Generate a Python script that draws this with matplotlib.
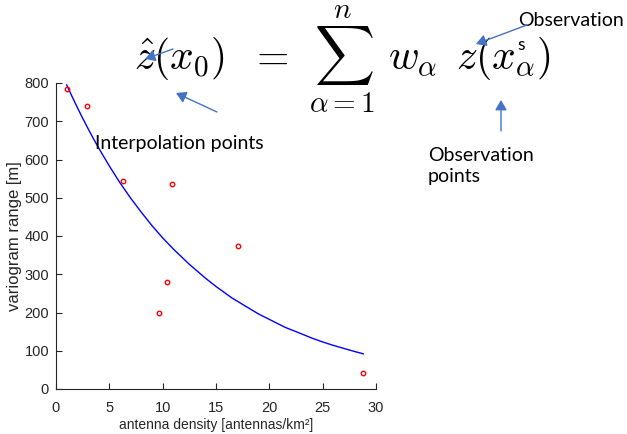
import matplotlib
matplotlib.use("Agg")
import matplotlib.pyplot as plt

# observed points
obs_x = [1.0, 2.95, 6.3, 10.9, 17.1, 10.4, 9.7, 28.8]
obs_y = [785, 740, 545, 535, 375, 280, 198, 41]

# fitted curve
fit_x = [1.0, 1.5, 2.0, 2.5, 3.0, 3.5, 4.0, 5.0, 6.0, 7.0, 8.0, 9.0, 10.0, 11.0,
         12.5, 14.0, 15.0, 16.5, 17.5, 19.0, 20.0, 21.5, 22.5, 24.0, 25.0, 26.0,
         27.0, 28.0, 28.8]
fit_y = [795, 765, 736, 708, 681, 655, 630, 583, 539, 499, 462, 427, 395, 366,
         326, 290, 268, 238, 221, 196, 182, 161, 150, 133, 123, 114, 106, 98, 92]

x_ticks = [0, 5, 10, 15, 20, 25, 30]
y_ticks = [0, 100, 200, 300, 400, 500, 600, 700, 800]

plt.rcParams['mathtext.fontset'] = 'cm'
W, H = 627, 434
fig = plt.figure(figsize=(W / 100, H / 100), dpi=100)
ax = fig.add_axes([56 / W, 1 - 389 / H, 320 / W, 306 / H])

ax.plot(fit_x, fit_y, color='#0000ff', lw=1.0)
ax.plot(obs_x, obs_y, 'o', mfc='none', mec='#ff0000', ms=3.2, mew=1.0)

ax.set_xlim(0, 30)
ax.set_ylim(0, 800)
ax.set_xticks(x_ticks)
ax.set_yticks(y_ticks)
for s in ['top', 'right']:
    ax.spines[s].set_visible(False)
for s in ['left', 'bottom']:
    ax.spines[s].set_color('#262626')
    ax.spines[s].set_linewidth(0.8)
ax.tick_params(direction='in', length=4, width=0.8, color='#262626',
               labelcolor='#262626', labelsize=10.5, pad=5)
ax.tick_params(axis='x', pad=9)
for lbl in ax.get_xticklabels() + ax.get_yticklabels():
    lbl.set_family('Liberation Sans')
ax.set_xlabel('antenna density [antennas/km²]', family='Liberation Sans',
              fontsize=10, color='#262626', labelpad=2)
ax.set_ylabel('variogram range [m]', family='Liberation Sans',
              fontsize=12, color='#262626', labelpad=2)

# equation overlay, placed piece by piece
eq_fs = 30
base = 1 - 69 / H
fig.text(179 / W, base, r'$\hat{z}(x_0)$', fontsize=eq_fs, ha='center', va='baseline')
fig.text(269 / W, base, r'$=$', fontsize=eq_fs, ha='center', va='baseline')
fig.text(342 / W, base, r'$\sum_{\alpha{=}1}^{n}$', fontsize=eq_fs, ha='center',
         va='baseline')
fig.text(413 / W, base, r'$w_\alpha$', fontsize=eq_fs, ha='center', va='baseline')
fig.text(503 / W, base, r'$z(x_\alpha)$', fontsize=eq_fs, ha='center',
         va='baseline')

sans = ['Lato', 'DejaVu Sans']
fig.text(521 / W, 1 - 45 / H, 's', family=sans, fontsize=12.5, ha='center',
         va='center')
fig.text(95 / W, 1 - 143 / H, 'Interpolation points', family=sans, fontsize=14,
         va='center', ha='left')
fig.text(518 / W, 1 - 20 / H, 'Observation', family=sans, fontsize=14,
         va='center', ha='left')
fig.text(428 / W, 1 - 166 / H, 'Observation\npoints', family=sans, fontsize=14,
         va='center', ha='left', linespacing=1.35)

arrow_c = '#4472C4'
def arr(tail, head):
    fig.add_artist(matplotlib.patches.FancyArrowPatch(
        (tail[0] / W, 1 - tail[1] / H), (head[0] / W, 1 - head[1] / H),
        transform=fig.transFigure, arrowstyle='-|>,head_length=6,head_width=3.5',
        color=arrow_c, lw=1.0, shrinkA=0, shrinkB=0, zorder=5))

arr((217, 112), (176, 93))
arr((173, 49), (145, 59))
arr((527, 25), (476, 44))
arr((501, 131), (501, 100))

fig.savefig('out.png', dpi=100)
